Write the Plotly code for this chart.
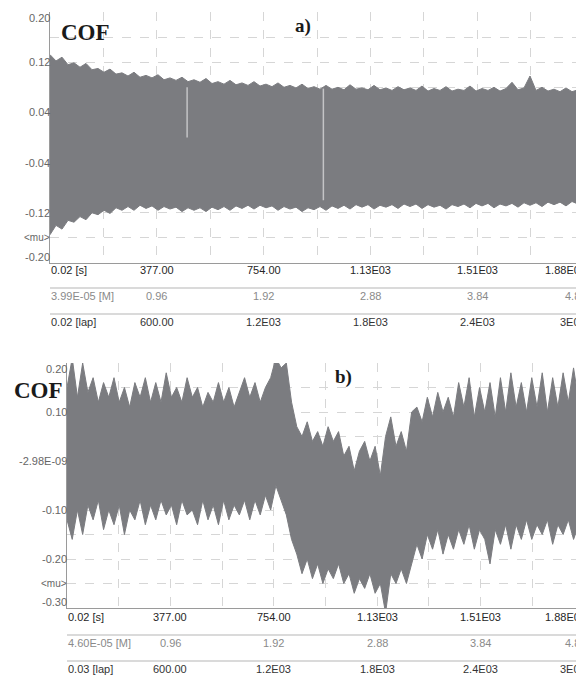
import numpy as np
import plotly.graph_objects as go

# ---------------- data ----------------
DURATION_S = 1885.0

# panel a) envelope of the COF signal
a_upper = [0.132, 0.122, 0.128, 0.116, 0.119, 0.112, 0.118, 0.108, 0.110, 0.104,
           0.109, 0.101, 0.103, 0.098, 0.104, 0.096, 0.099, 0.095, 0.100, 0.092,
           0.095, 0.091, 0.096, 0.089, 0.092, 0.088, 0.094, 0.086, 0.089, 0.085,
           0.091, 0.084, 0.087, 0.083, 0.089, 0.082, 0.085, 0.081, 0.087, 0.080,
           0.083, 0.079, 0.085, 0.078, 0.081, 0.077, 0.083, 0.077, 0.080, 0.076,
           0.084, 0.077, 0.079, 0.076, 0.083, 0.076, 0.079, 0.075, 0.081, 0.076,
           0.079, 0.075, 0.082, 0.074, 0.078, 0.075, 0.081, 0.074, 0.077, 0.075,
           0.082, 0.074, 0.078, 0.075, 0.080, 0.074, 0.078, 0.088, 0.076, 0.079,
           0.098, 0.075, 0.080, 0.074, 0.077, 0.073, 0.079, 0.073, 0.076, 0.074]
a_lower = [-0.155, -0.140, -0.146, -0.132, -0.135, -0.126, -0.131, -0.120, -0.123, -0.116,
           -0.121, -0.112, -0.116, -0.110, -0.116, -0.108, -0.113, -0.109, -0.116, -0.110,
           -0.114, -0.111, -0.118, -0.112, -0.116, -0.112, -0.118, -0.111, -0.115, -0.110,
           -0.116, -0.109, -0.113, -0.108, -0.114, -0.108, -0.112, -0.109, -0.116, -0.110,
           -0.114, -0.111, -0.118, -0.112, -0.115, -0.110, -0.116, -0.109, -0.113, -0.108,
           -0.114, -0.107, -0.111, -0.107, -0.114, -0.108, -0.111, -0.107, -0.113, -0.106,
           -0.110, -0.106, -0.113, -0.107, -0.111, -0.108, -0.114, -0.107, -0.110, -0.106,
           -0.112, -0.105, -0.109, -0.105, -0.112, -0.106, -0.109, -0.105, -0.111, -0.104,
           -0.108, -0.104, -0.110, -0.103, -0.107, -0.103, -0.109, -0.102, -0.106, -0.103]
# short dropouts visible as light vertical lines in a)
a_gap_time = [484, 965]
a_gap_top = [0.080, 0.078]
a_gap_bottom = [0.000, -0.100]

# panel b) envelope of the COF signal
b_upper = [0.15, 0.21, 0.13, 0.20, 0.14, 0.17, 0.12, 0.16, 0.13, 0.17,
           0.12, 0.15, 0.11, 0.16, 0.13, 0.17, 0.12, 0.16, 0.12, 0.18,
           0.13, 0.15, 0.12, 0.17, 0.13, 0.15, 0.11, 0.14, 0.12, 0.16,
           0.12, 0.15, 0.11, 0.14, 0.17, 0.13, 0.16, 0.12, 0.15, 0.17,
           0.21, 0.19, 0.20, 0.12, 0.07, 0.05, 0.08, 0.04, 0.06, 0.03,
           0.07, 0.04, 0.06, 0.01, 0.03, -0.02, 0.02, 0.04, 0.00, 0.03,
           -0.03, 0.05, 0.09, 0.03, 0.06, 0.02, 0.10, 0.11, 0.08, 0.13,
           0.09, 0.14, 0.10, 0.13, 0.09, 0.16, 0.11, 0.17, 0.09, 0.15,
           0.10, 0.16, 0.09, 0.17, 0.10, 0.18, 0.11, 0.16, 0.10, 0.17,
           0.11, 0.18, 0.10, 0.17, 0.11, 0.18, 0.12, 0.19, 0.12, 0.18]
b_lower = [-0.12, -0.16, -0.10, -0.15, -0.09, -0.12, -0.08, -0.14, -0.10, -0.13,
           -0.09, -0.15, -0.10, -0.12, -0.08, -0.13, -0.09, -0.12, -0.08, -0.11,
           -0.09, -0.13, -0.08, -0.11, -0.10, -0.13, -0.08, -0.12, -0.09, -0.13,
           -0.08, -0.12, -0.09, -0.11, -0.08, -0.12, -0.08, -0.11, -0.07, -0.10,
           -0.05, -0.08, -0.11, -0.16, -0.19, -0.23, -0.20, -0.24, -0.21, -0.25,
           -0.22, -0.24, -0.21, -0.25, -0.23, -0.27, -0.24, -0.26, -0.23, -0.27,
           -0.25, -0.31, -0.23, -0.25, -0.22, -0.25, -0.21, -0.17, -0.20, -0.15,
           -0.18, -0.14, -0.19, -0.15, -0.18, -0.14, -0.17, -0.13, -0.18, -0.14,
           -0.16, -0.21, -0.14, -0.17, -0.13, -0.18, -0.13, -0.16, -0.12, -0.16,
           -0.13, -0.15, -0.12, -0.17, -0.13, -0.15, -0.12, -0.16, -0.13, -0.15]

# bottom tick-label rows
row_times = [0, 377, 754, 1131, 1508, 1885]
row_s = ["0.02 [s]", "377.00", "754.00", "1.13E03", "1.51E03", "1.88E03"]
a_row_m = ["3.99E-05 [M]", "0.96", "1.92", "2.88", "3.84", "4.80"]
a_row_lap = ["0.02 [lap]", "600.00", "1.2E03", "1.8E03", "2.4E03", "3E03"]
b_row_m = ["4.60E-05 [M]", "0.96", "1.92", "2.88", "3.84", "4.80"]
b_row_lap = ["0.03 [lap]", "600.00", "1.2E03", "1.8E03", "2.4E03", "3E03"]

a_y_vals = [0.20, 0.12, 0.04, -0.04, -0.12, -0.16, -0.20]
a_y_text = ["0.20", "0.12", "0.04", "-0.04", "-0.12", "&lt;mu&gt;", "-0.20"]
b_y_vals = [0.20, 0.10, 0.0, -0.10, -0.20, -0.25, -0.30]
b_y_text = ["0.20", "0.10", "-2.98E-09", "-0.10", "-0.20", "&lt;mu&gt;", "-0.30"]

# ---------------- layout helpers ----------------
# the page has an 8 px body margin, so the figure is drawn 8 px smaller
OFF = 8
W, H = 584 - OFF, 678 - OFF
def px_x(x):
    return (x - OFF) / W
def px_y(y):
    return 1 - (y - OFF) / H

FILL = "#7b7c80"
SANS = "Liberation Sans, Arial, sans-serif"
SERIF = "Liberation Serif, Times New Roman, serif"

panels = {
    "a": dict(left=50, top=12, bottom=263, yr=[-0.20, 0.20], dy=0.04,
              rows=[270, 296, 322], lines=[288, 314]),
    "b": dict(left=67, top=363, bottom=608, yr=[-0.30, 0.20], dy=0.05,
              rows=[617, 643, 669], lines=[635, 661]),
}

fig = go.Figure()

t_a = np.linspace(0, DURATION_S, len(a_upper))
t_b = np.linspace(0, DURATION_S, len(b_upper))

for t, up, lo, xa, ya in [(t_a, a_upper, a_lower, "x", "y"),
                          (t_b, b_upper, b_lower, "x2", "y2")]:
    fig.add_trace(go.Scatter(x=t, y=lo, mode="lines", line=dict(color=FILL, width=1),
                             xaxis=xa, yaxis=ya, showlegend=False, hoverinfo="skip"))
    fig.add_trace(go.Scatter(x=t, y=up, mode="lines", line=dict(color=FILL, width=1),
                             fill="tonexty", fillcolor=FILL,
                             xaxis=xa, yaxis=ya, showlegend=False, hoverinfo="skip"))

for gt, gtop, gbot in zip(a_gap_time, a_gap_top, a_gap_bottom):
    fig.add_trace(go.Scatter(x=[gt, gt], y=[gtop, gbot], mode="lines",
                             line=dict(color="#c4c4c6", width=1.5),
                             xaxis="x", yaxis="y", showlegend=False, hoverinfo="skip"))

axis_common = dict(showticklabels=False, ticks="", zeroline=False, showgrid=True,
                   gridcolor="#d6d6d6", gridwidth=1, griddash="dash",
                   showline=True, linecolor="#9a9a9a", linewidth=1, fixedrange=True)

layout = dict(width=W, height=H, margin=dict(l=0, r=0, t=0, b=0),
              paper_bgcolor="white", plot_bgcolor="white", showlegend=False)

annotations = []
shapes = []
for key, xa, ya, row_m, row_lap, yv, yt in [
        ("a", "x", "y", a_row_m, a_row_lap, a_y_vals, a_y_text),
        ("b", "x2", "y2", b_row_m, b_row_lap, b_y_vals, b_y_text)]:
    p = panels[key]
    suffix = "" if key == "a" else "2"
    layout["xaxis" + suffix] = dict(axis_common, domain=[px_x(p["left"]), 1.0],
                                    range=[0, DURATION_S], tick0=0, dtick=DURATION_S / 10,
                                    anchor=ya)
    layout["yaxis" + suffix] = dict(axis_common, domain=[px_y(p["bottom"]), px_y(p["top"])],
                                    range=p["yr"], tick0=p["yr"][0], dtick=p["dy"],
                                    anchor=xa)
    # y labels
    for i, (v, txt) in enumerate(zip(yv, yt)):
        shift = 0
        if i == 0:
            shift = -6
        elif i == len(yv) - 1:
            shift = 6
        annotations.append(dict(x=px_x(p["left"]), xref="paper", xanchor="right", xshift=2,
                                y=v, yref=ya, yanchor="middle", yshift=shift,
                                text=txt, showarrow=False,
                                font=dict(family=SANS, size=11 if txt != "&lt;mu&gt;" else 10,
                                          color="#666666")))
    # bottom label rows
    for row_labels, ry, col in [(row_s, p["rows"][0], "#262626"),
                                (row_m, p["rows"][1], "#8a8a8a"),
                                (row_lap, p["rows"][2], "#333333")]:
        for j, (tt, lab) in enumerate(zip(row_times, row_labels)):
            if j == 0:
                anc, xs = "left", -1
            elif j == len(row_times) - 1:
                anc, xs = "right", 4
            else:
                anc, xs = "center", 0
            annotations.append(dict(x=tt, xref=xa, xanchor=anc, xshift=xs,
                                    y=px_y(ry), yref="paper", yanchor="middle",
                                    text=lab, showarrow=False,
                                    font=dict(family=SANS, size=11, color=col)))
    for ly in p["lines"]:
        shapes.append(dict(type="line", xref="paper", yref="paper",
                           x0=px_x(p["left"]), x1=1.0, y0=px_y(ly), y1=px_y(ly),
                           line=dict(color="#b5b5b5", width=1)))

# titles
annotations.append(dict(x=px_x(85), y=px_y(33), xref="paper", yref="paper", text="<b>COF</b>",
                        showarrow=False, xanchor="center", yanchor="middle",
                        font=dict(family=SERIF, size=23, color="#1a1a1a")))
annotations.append(dict(x=px_x(303), y=px_y(26), xref="paper", yref="paper", text="<b>a)</b>",
                        showarrow=False, xanchor="center", yanchor="middle",
                        font=dict(family=SERIF, size=19, color="#1a1a1a")))
annotations.append(dict(x=px_x(38), y=px_y(390), xref="paper", yref="paper", text="<b>COF</b>",
                        showarrow=False, xanchor="center", yanchor="middle",
                        font=dict(family=SERIF, size=23, color="#1a1a1a")))
annotations.append(dict(x=px_x(343), y=px_y(377), xref="paper", yref="paper", text="<b>b)</b>",
                        showarrow=False, xanchor="center", yanchor="middle",
                        font=dict(family=SERIF, size=19, color="#1a1a1a")))

layout["annotations"] = annotations
layout["shapes"] = shapes
fig.update_layout(**layout)

fig.write_html("out.html")
